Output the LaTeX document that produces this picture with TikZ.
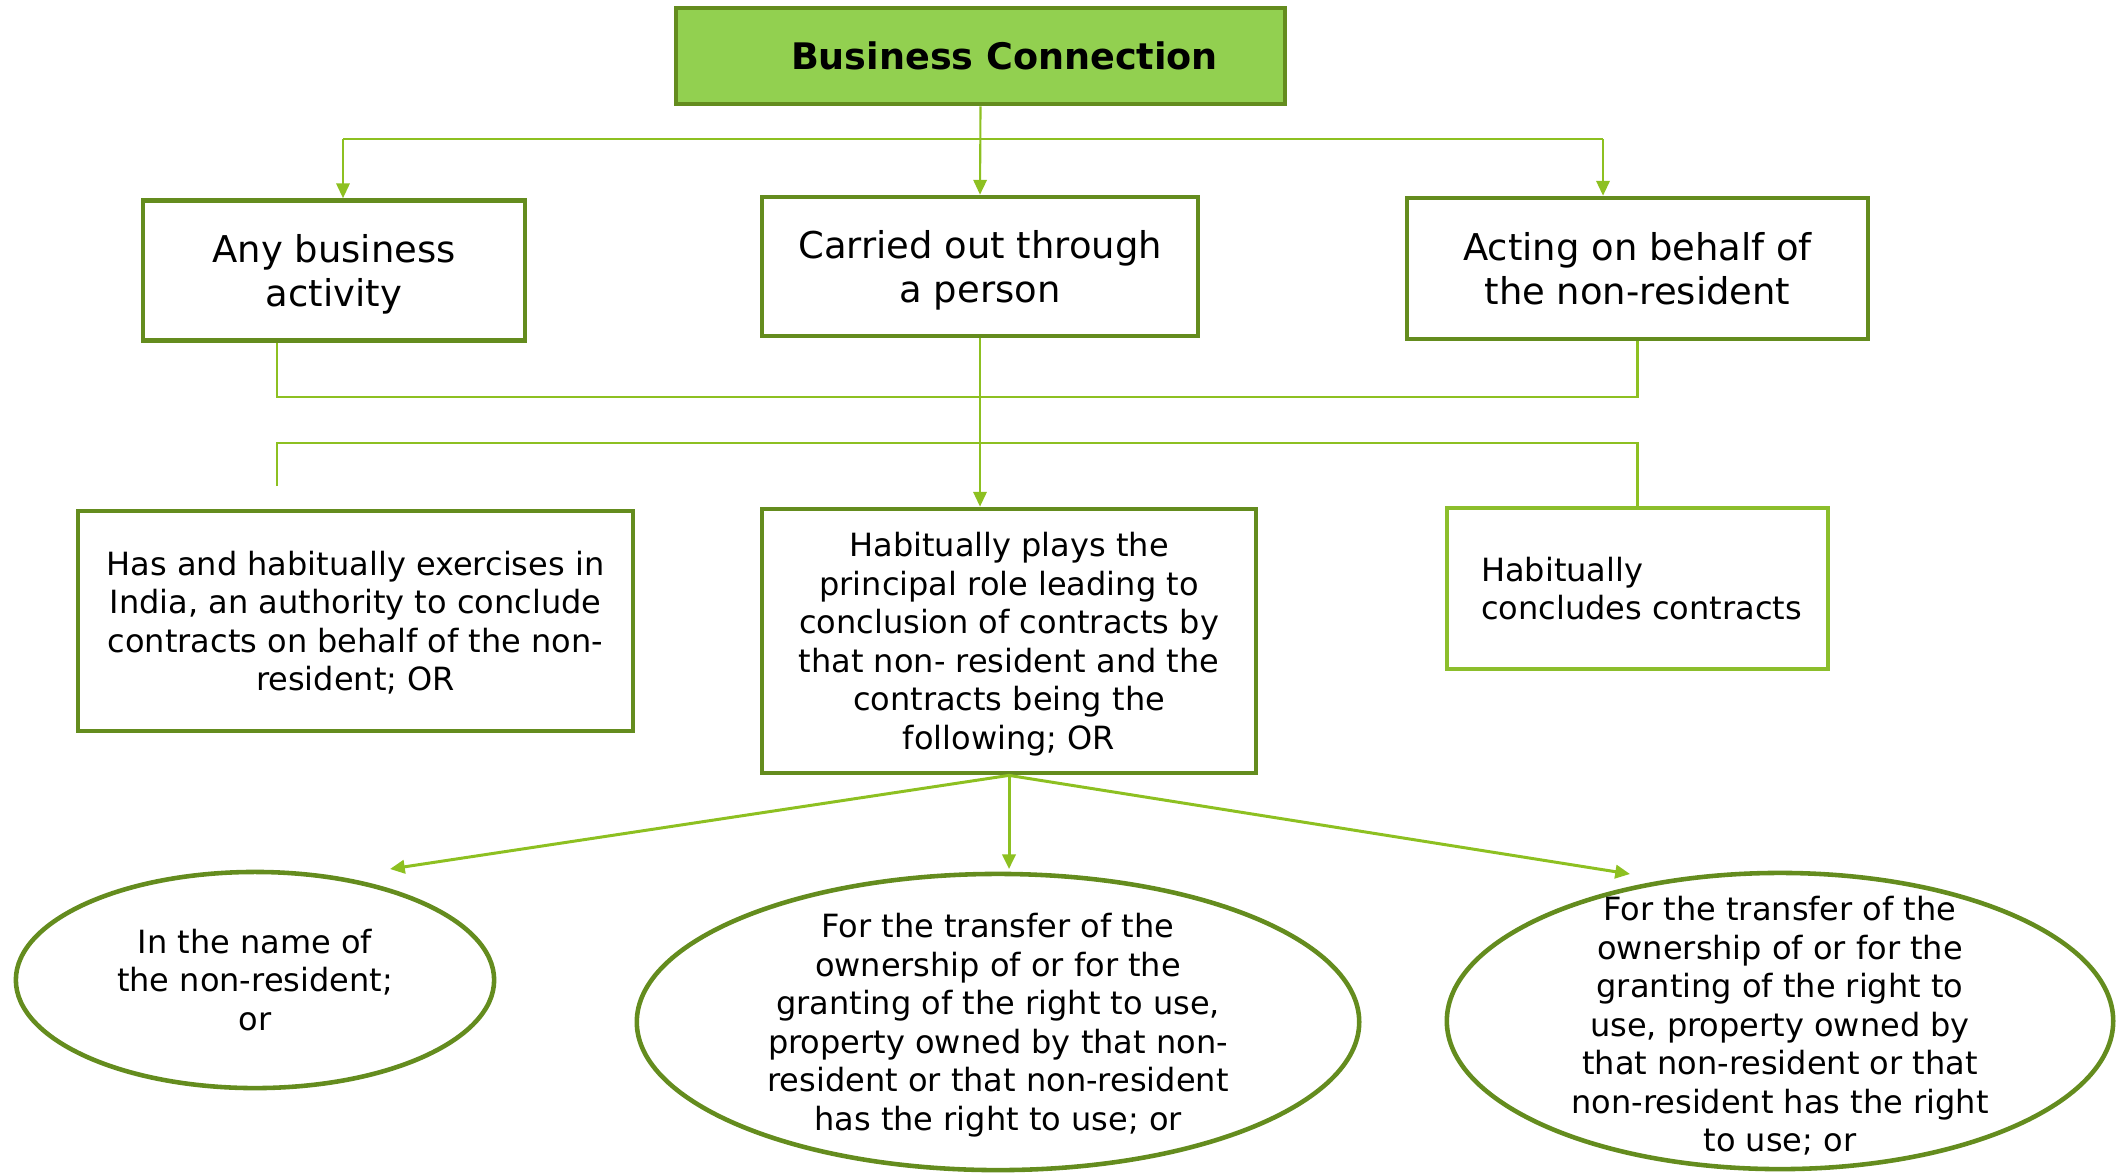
\documentclass[tikz,border=0pt]{standalone}
\usepackage{fontspec}
\setmainfont{DejaVu Sans}
\usepackage{tikz}
\usetikzlibrary{arrows.meta,
shapes.geometric
}
\definecolor{boxgreen}{HTML}{648C1E}
\definecolor{linegreen}{HTML}{8DC021}
\definecolor{titlefill}{HTML}{92D050}
\definecolor{lightbox}{HTML}{8CBE2C}
\tikzset{>={Triangle[length=4.2pt,width=3.8pt]}}
\tikzset{
  topbox/.style={draw=boxgreen, line width=1.3pt, rectangle, align=center, inner sep=0pt, text depth=0pt, font=\fontsize{10.5}{12.7}\selectfont},
  textbox/.style={draw=boxgreen, line width=1.3pt, rectangle, align=center, inner sep=0pt, text depth=0pt, font=\fontsize{9.1}{10.95}\selectfont},
  oval/.style={draw=boxgreen, line width=1.3pt, ellipse, inner sep=0pt},
  ovaltext/.style={align=center, inner sep=0pt, font=\fontsize{9.1}{10.95}\selectfont},
  link/.style={draw=linegreen, line width=0.6pt},
  fork/.style={draw=linegreen, line width=0.85pt}
}

\begin{document}
\begin{tikzpicture}[x=0.01cm, y=-0.01cm]
                \useasboundingbox (0,0) rectangle (2116,1172);

                % top
                \node[draw=boxgreen, fill=titlefill, line width=1.3pt, inner sep=0pt, text depth=0pt,
                      minimum width=6.09cm, minimum height=0.96cm,
                      font=\fontsize{10.4}{12}\selectfont\bfseries] (title) at (980.5,56) {\hspace*{0.48cm}Business Connection};

                % first row
                \node[topbox, minimum width=3.82cm, minimum height=1.40cm] (anyact) at (334,270.5) {Any business\\activity};
                \node[topbox, minimum width=4.36cm, minimum height=1.39cm] (person) at (980,266.5) {Carried out through\\a person};
                \node[topbox, minimum width=4.61cm, minimum height=1.41cm] (behalf) at (1637.5,268.5) {Acting on behalf of\\the non-resident};

                % second row
                \node[textbox, minimum width=5.55cm, minimum height=2.20cm] (authority) at (355.5,621) {Has and habitually exercises in\\India, an authority to conclude\\contracts on behalf of the non-\\resident; OR};
                \node[textbox, minimum width=4.94cm, minimum height=2.64cm] (principal) at (1009,641) {Habitually plays the\\principal role leading to\\conclusion of contracts by\\that non- resident and the\\contracts being the\\following; OR};
                \node[textbox, draw=lightbox, align=left, minimum width=3.81cm, minimum height=1.61cm] (concludes) at (1637.5,588.5) {\hspace*{0.08cm}Habitually\\\hspace*{0.08cm}concludes contracts};

                % ovals
                \node[oval, minimum width=4.78cm, minimum height=2.16cm] (nameof) at (255,980) {};
                \node[ovaltext] at (nameof) {In the name of\\the non-resident;\\or};
                \node[oval, minimum width=7.22cm, minimum height=2.96cm] (transfer) at (998,1022) {};
                \node[ovaltext] at ([yshift=-0.03cm]transfer) {For the transfer of the\\ownership of or for the\\granting of the right to use,\\property owned by that non-\\resident or that non-resident\\has the right to use; or};
                \node[oval, minimum width=6.66cm, minimum height=2.96cm] (transfertwo) at (1780,1021) {};
                \node[ovaltext] at ([yshift=-0.05cm]transfertwo) {For the transfer of the\\ownership of or for the\\granting of the right to\\use, property owned by\\that non-resident or that\\non-resident has the right\\to use; or};

                \coordinate (tl) at (343,139);
                \coordinate (tr) at (1603,139);
                \coordinate (ml) at (277,397);
                \coordinate (nl) at (277,443);
                \coordinate (stub) at (277,486);
                \coordinate (tipl) at (390,869);
                \coordinate (tipm) at (1009,869);
                \coordinate (tipr) at (1630,874);

                \draw[link, ->] (title.south) -- (person.north);
                \draw[link] (tl) -- (tr);
                \draw[link, ->] (tl) -- (tl |- anyact.north);
                \draw[link, ->] (tr) -- (tr |- behalf.north);

                \draw[link] (ml |- anyact.south) -- (ml) -- (behalf.south |- ml) -- (behalf.south);
                \draw[link] (stub) -- (nl) -- (concludes.north |- nl) -- (concludes.north);
                \draw[link, ->] (person.south) -- (person.south |- principal.north);

                \draw[fork, ->] (principal.south) -- (tipl);
                \draw[fork, ->] (principal.south) -- (tipm);
                \draw[fork, ->] (principal.south) -- (tipr);

            \end{tikzpicture}
\end{document}
